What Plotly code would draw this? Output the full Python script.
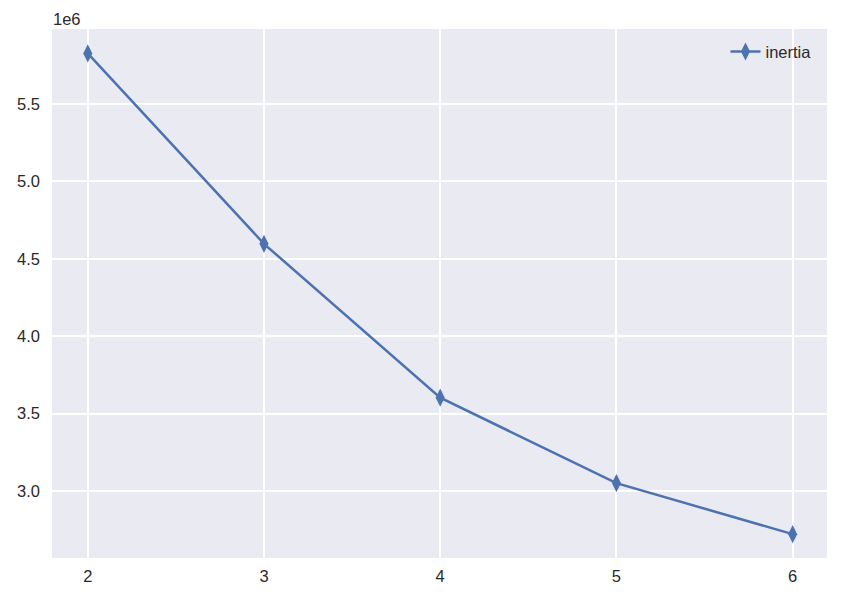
import plotly.graph_objects as go

k_values = [2, 3, 4, 5, 6]
inertia = [5.827e6, 4.597e6, 3.603e6, 3.051e6, 2.721e6]
y_tick_vals = [3.0e6, 3.5e6, 4.0e6, 4.5e6, 5.0e6, 5.5e6]
y_tick_text = ["3.0", "3.5", "4.0", "4.5", "5.0", "5.5"]
x_tick_vals = [2, 3, 4, 5, 6]
x_tick_text = ["2", "3", "4", "5", "6"]

FONT = "Liberation Sans, Arial, sans-serif"
TXT = "#2a2a2a"

fig = go.Figure()
fig.add_trace(go.Scatter(
    x=k_values, y=inertia, mode="lines+markers", name="inertia",
    line=dict(color="#4C72B0", width=2.5),
    marker=dict(symbol="diamond-tall", size=13, color="#4C72B0"),
))

fig.update_layout(
    width=837, height=592,
    paper_bgcolor="white", plot_bgcolor="#EAEAF2",
    margin=dict(l=44, r=18, t=21, b=42),
    font=dict(family=FONT, size=16.5, color=TXT),
    showlegend=True,
    legend=dict(x=0.869, y=0.99, xanchor="left", yanchor="top",
                bgcolor="rgba(0,0,0,0)", borderwidth=0,
                font=dict(size=16.5, color=TXT)),
    xaxis=dict(range=[1.797, 6.195], tickvals=x_tick_vals, ticktext=x_tick_text,
               showgrid=True, gridcolor="white", gridwidth=1.6, zeroline=False,
               showline=False, ticks="", ticklabelstandoff=6, automargin=False),
    yaxis=dict(range=[2.567e6, 5.985e6], tickvals=y_tick_vals, ticktext=y_tick_text,
               showgrid=True, gridcolor="white", gridwidth=1.6, zeroline=False,
               showline=False, ticks="", ticklabelstandoff=11, automargin=False),
    annotations=[dict(text="1e6", x=0, y=1, xref="paper", yref="paper",
                      xanchor="left", yanchor="bottom", showarrow=False,
                      font=dict(size=16.5, color=TXT), yshift=-1, xshift=-1)],
)

fig.write_html("out.html")
